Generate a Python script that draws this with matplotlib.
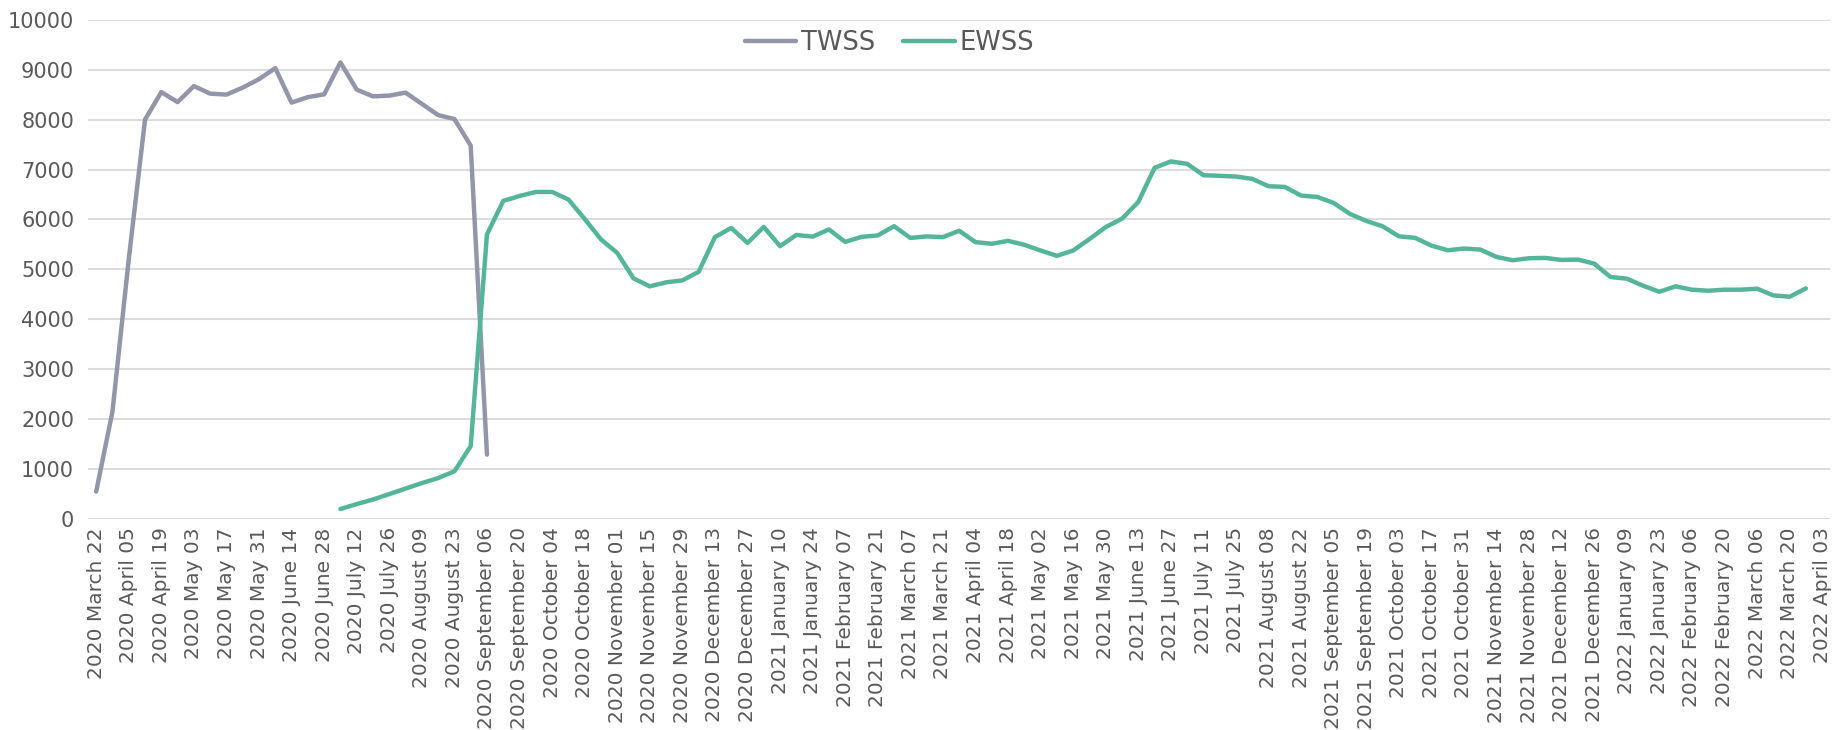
import matplotlib
matplotlib.use("Agg")
import matplotlib.pyplot as plt
import numpy as np
import pandas as pd

# --- data (weekly) ---
weeks = pd.date_range("2020-03-22", periods=107, freq="7D")
week_labels = [f"{d.year} {d.strftime('%B')} {d.day:02d}" for d in weeks]

twss_start = 0
twss = [550, 2150, 5200, 8000, 8550, 8350, 8670, 8520, 8500, 8640,
        8810, 9030, 8340, 8450, 8505, 9145, 8600, 8465, 8480, 8540,
        8315, 8090, 8010, 7480, 1290]

ewss_start = 15
ewss = [200, 300, 390, 500, 610, 720, 820, 955, 1460, 5700,
        6370, 6470, 6550, 6550, 6400, 6010, 5600, 5330, 4820, 4660,
        4740, 4780, 4950, 5645, 5830, 5530, 5850, 5465, 5690, 5655,
        5800, 5550, 5650, 5680, 5865, 5630, 5660, 5646, 5773, 5546,
        5512, 5572, 5492, 5378, 5271, 5378, 5606, 5847, 6015, 6350,
        7034, 7161, 7114, 6886, 6873, 6859, 6812, 6665, 6651, 6477,
        6450, 6330, 6110, 5970, 5863, 5662, 5631, 5477, 5383, 5417,
        5397, 5249, 5182, 5223, 5229, 5189, 5196, 5115, 4847, 4814,
        4673, 4552, 4660, 4593, 4572, 4593, 4593, 4613, 4479, 4452,
        4619]

n = len(weeks)
x = np.arange(n)

def pad(vals, start):
    arr = np.full(n, np.nan)
    arr[start:start + len(vals)] = vals
    return arr

text_col = "#595959"
fig = plt.figure(figsize=(18.34, 7.30), dpi=100)
ax = fig.add_axes([0.048, 0.289, 0.95, 0.684])

ax.plot(x, pad(twss, twss_start), color="#9395a8", lw=3.2, label="TWSS",
        solid_capstyle="round", solid_joinstyle="round", zorder=3)
ax.plot(x, pad(ewss, ewss_start), color="#55b59a", lw=3.2, label="EWSS",
        solid_capstyle="round", solid_joinstyle="round", zorder=3)

ax.set_xlim(-0.5, n - 0.5)
ax.set_ylim(0, 10000)
ax.set_yticks(np.arange(0, 10001, 1000))
ax.set_xticks(x[::2])
ax.set_xticklabels(week_labels[::2], rotation=90, fontsize=14.5, color=text_col)
ax.tick_params(axis="y", labelsize=15, colors=text_col, length=0, pad=10)
ax.tick_params(axis="x", length=0, pad=6)

ax.grid(axis="y", color="#dcdcdc", lw=1.5, zorder=0)
ax.set_axisbelow(True)
for s in ax.spines.values():
    s.set_visible(False)

leg = ax.legend(loc="center", bbox_to_anchor=(0.485, 0.941), bbox_transform=fig.transFigure,
                ncol=2, frameon=False, fontsize=18.5, handlelength=2.0,
                columnspacing=1.1, handletextpad=0.2)
for t in leg.get_texts():
    t.set_color(text_col)

fig.savefig("out.png", dpi=100)
